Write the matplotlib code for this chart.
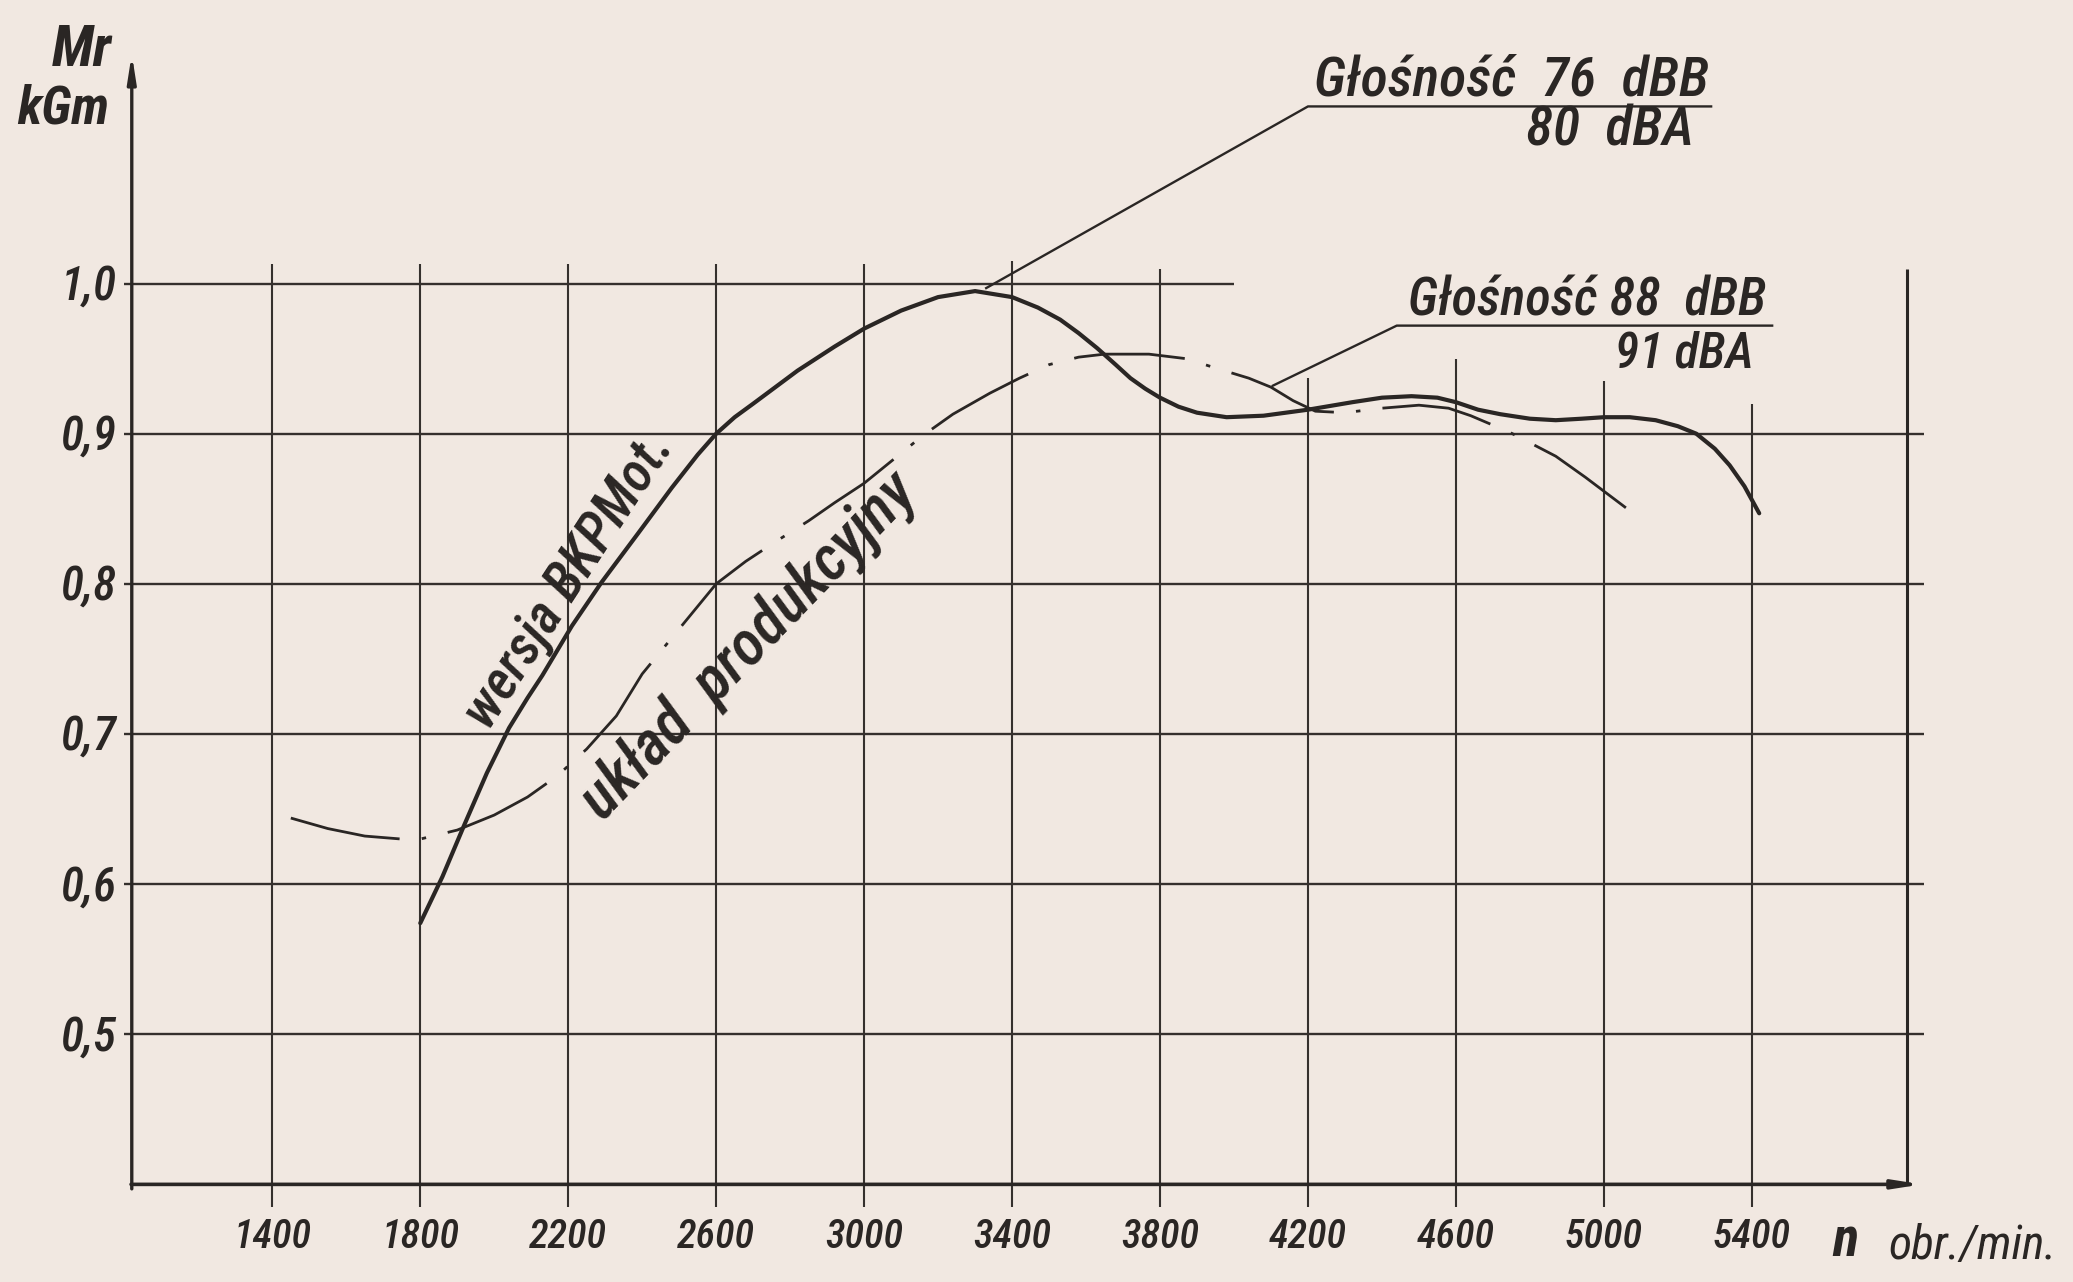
import matplotlib
matplotlib.use("Agg")
import matplotlib.pyplot as plt
from matplotlib import font_manager as fm

# ---------------- data ----------------
x_ticks = [1400, 1800, 2200, 2600, 3000, 3400, 3800, 4200, 4600, 5000, 5400]
x_tick_labels = ["1400", "1800", "2200", "2600", "3000", "3400", "3800", "4200", "4600", "5000", "5400"]
y_ticks = [0.5, 0.6, 0.7, 0.8, 0.9, 1.0]
y_tick_labels = ["0,5", "0,6", "0,7", "0,8", "0,9", "1,0"]

# wersja BKPMot. (solid)
rpm_bkpmot = [1800, 1860, 1920, 1980, 2040, 2090, 2130, 2210, 2290, 2390, 2480, 2550, 2600, 2650, 2700,
              2760, 2820, 2920, 3000, 3100, 3200, 3300, 3400, 3470, 3530, 3580, 3630, 3680, 3720, 3760,
              3800, 3850, 3900, 3980, 4080, 4200, 4320, 4400, 4480, 4550, 4600, 4660, 4720, 4800, 4870,
              4940, 5000, 5070, 5140, 5200, 5250, 5300, 5340, 5380, 5420]
mr_bkpmot = [0.574, 0.605, 0.640, 0.674, 0.704, 0.724, 0.739, 0.772, 0.801, 0.834, 0.864, 0.886, 0.900, 0.911, 0.920,
             0.931, 0.942, 0.958, 0.970, 0.982, 0.991, 0.995, 0.991, 0.984, 0.976, 0.967, 0.957, 0.946, 0.937, 0.930,
             0.924, 0.918, 0.914, 0.911, 0.912, 0.916, 0.921, 0.924, 0.925, 0.924, 0.921, 0.916, 0.913, 0.910, 0.909,
             0.910, 0.911, 0.911, 0.909, 0.905, 0.900, 0.890, 0.879, 0.865, 0.847]

# układ produkcyjny (dash-dot)
rpm_prod = [1450, 1550, 1650, 1750, 1800, 1900, 2000, 2090, 2170, 2250, 2330, 2400, 2480, 2550, 2600,
            2680, 2760, 2850, 2920, 3000, 3080, 3160, 3240, 3340, 3420, 3500, 3580, 3650, 3770, 3870,
            3960, 4040, 4100, 4160, 4220, 4300, 4400, 4500, 4580, 4640, 4745, 4870, 4950, 5020, 5090]
mr_prod = [0.644, 0.637, 0.632, 0.630, 0.630, 0.636, 0.646, 0.658, 0.672, 0.690, 0.712, 0.740, 0.764, 0.785, 0.800,
           0.815, 0.828, 0.842, 0.854, 0.867, 0.883, 0.899, 0.913, 0.927, 0.937, 0.946, 0.951, 0.953, 0.953, 0.950,
           0.943, 0.937, 0.931, 0.922, 0.915, 0.914, 0.917, 0.919, 0.917, 0.912, 0.901, 0.885, 0.871, 0.858, 0.845]

# ---------------- style ----------------
BG = "#f1e8e1"
INK = "#2a2624"
GRID = "#35302d"

ttf = fm.fontManager.ttflist
names = {f.name for f in ttf}
STRETCH = "normal"
if "Liberation Sans Narrow" in names:
    FAM = ["Liberation Sans Narrow", "DejaVu Sans"]
elif "Roboto Condensed" in names:
    FAM = ["Roboto Condensed", "DejaVu Sans"]
elif any(f.name == "DejaVu Sans" and str(f.stretch) in ("condensed", "semi-condensed") for f in ttf):
    FAM = ["DejaVu Sans"]
    STRETCH = "condensed"
else:
    FAM = ["Liberation Sans", "DejaVu Sans"]

fig = plt.figure(figsize=(20.73, 12.82), dpi=100)
fig.patch.set_facecolor(BG)
ax = fig.add_axes([0.0600, 0.0176, 0.9278, 0.9837])
ax.set_facecolor(BG)
ax.set_xlim(1000, 6200)
ax.set_ylim(0.35, 1.19)
ax.axis("off")
renderer = fig.canvas.get_renderer()


def ftext(x, y, s, width_px, rot=0, weight="medium", **kw):
    """Place text and scale its font so that its width matches width_px."""
    t = ax.text(x, y, s, fontsize=30, family=FAM, fontstretch=STRETCH, style="italic",
                weight=weight, color=INK, clip_on=False, **kw)
    w = t.get_window_extent(renderer).width
    t.set_fontsize(30 * width_px / w)
    t.set_rotation(rot)
    return t


X0, X1 = 1020, 5820      # left axis, right frame line
Y0 = 0.4                 # bottom axis

# horizontal grid lines
for v in y_ticks:
    xe = 4000 if v == 1.0 else X1 + 45
    ax.plot([X0 - 22, xe], [v, v], color=GRID, lw=1.7, solid_capstyle="butt", zorder=1)

# vertical grid lines
grid_tops = [1.013, 1.013, 1.013, 1.013, 1.013, 1.015, 1.010, 0.937, 0.950, 0.935, 0.920]
for r, top in zip(x_ticks, grid_tops):
    ax.plot([r, r], [0.385, top], color=GRID, lw=1.5, solid_capstyle="butt", zorder=1)

# right frame line
ax.plot([X1, X1], [Y0, 1.01], color=INK, lw=2.2, solid_capstyle="butt", zorder=2)

# axes with arrows
ax.annotate("", xy=(X0, 1.153), xytext=(X0, Y0 - 0.003),
            arrowprops=dict(arrowstyle="-|>,head_length=1.6,head_width=0.25", lw=2.4,
                            color=INK, shrinkA=0, shrinkB=0), zorder=3)
ax.annotate("", xy=(5860, Y0), xytext=(X0 - 2, Y0),
            arrowprops=dict(arrowstyle="-|>,head_length=1.6,head_width=0.25", lw=2.6,
                            color=INK, shrinkA=0, shrinkB=0), zorder=3)

# curves
ax.plot(rpm_bkpmot, mr_bkpmot, color=INK, lw=3.0, solid_joinstyle="round",
        solid_capstyle="round", zorder=4)
ax.plot(rpm_prod, mr_prod, color=INK, lw=2.0, linestyle=(0, (40, 8, 1.6, 8)),
        dash_capstyle="butt", zorder=4)

# tick labels
for r, lab in zip(x_ticks, x_tick_labels):
    ftext(r, 0.365, lab, 78, ha="center", va="center")
for v, lab in zip(y_ticks, y_tick_labels):
    ftext(980, v - 0.002, lab, 56, ha="right", va="center")

# axis titles
ftext(885, 1.155, "Mr", 60, ha="center", va="center", weight="bold")
ftext(835, 1.116, "kGm", 92, ha="center", va="center", weight="bold")
ftext(5653, 0.362, "n", 26, ha="center", va="center", weight="bold")
ftext(5770, 0.359, "obr./min.", 168, ha="left", va="center", weight="normal")

# curve labels
ftext(2205, 0.802, "wersja BKPMot.", 340, rot=57, rotation_mode="anchor",
      ha="center", va="center")
ftext(2690, 0.758, "układ  produkcyjny", 455, rot=46, rotation_mode="anchor",
      ha="center", va="center")

# annotation 1
ax.plot([3330, 4200, 5290], [0.997, 1.118, 1.118], color=INK, lw=1.7, zorder=3)
ftext(4215, 1.125, "Głośność  76  dBB", 395, ha="left", va="baseline")
ftext(5245, 1.092, "80  dBA", 168, ha="right", va="baseline")

# annotation 2
ax.plot([4105, 4440, 5455], [0.932, 0.972, 0.972], color=INK, lw=1.7, zorder=3)
ftext(4470, 0.979, "Głośność 88  dBB", 358, ha="left", va="baseline")
ftext(5405, 0.944, "91 dBA", 139, ha="right", va="baseline")

fig.savefig("out.png", dpi=100, facecolor=BG)
